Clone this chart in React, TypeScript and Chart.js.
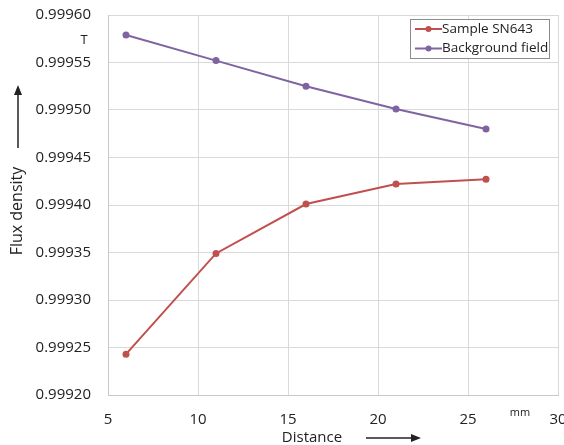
import React, { useEffect, useRef } from "react";
import { Chart, registerables } from "chart.js";

Chart.register(...registerables);

const distances = [6, 11, 16, 21, 26];
const sampleSN643 = [0.999243, 0.999349, 0.999401, 0.999422, 0.999427];
const backgroundField = [0.999579, 0.999552, 0.999525, 0.999501, 0.99948];
const seriesNames = ["Sample SN643", "Background field"];
const seriesColors = ["#C0504D", "#8064A2"];
const xAxisTitle = "Distance";
const yAxisTitle = "Flux density";
const xUnit = "mm";
const yUnit = "T";

const FONT = "'Open Sans', 'DejaVu Sans', sans-serif";

function arrow(ctx: CanvasRenderingContext2D, x1: number, y1: number, x2: number, y2: number) {
  const ang = Math.atan2(y2 - y1, x2 - x1);
  const hl = 10;
  const hw = 4;
  ctx.save();
  ctx.strokeStyle = "#222";
  ctx.fillStyle = "#222";
  ctx.lineWidth = 1.5;
  ctx.beginPath();
  ctx.moveTo(x1, y1);
  ctx.lineTo(x2 - Math.cos(ang) * hl * 0.8, y2 - Math.sin(ang) * hl * 0.8);
  ctx.stroke();
  ctx.beginPath();
  ctx.moveTo(x2, y2);
  ctx.lineTo(x2 - Math.cos(ang) * hl - Math.sin(ang) * hw, y2 - Math.sin(ang) * hl + Math.cos(ang) * hw);
  ctx.lineTo(x2 - Math.cos(ang) * hl + Math.sin(ang) * hw, y2 - Math.sin(ang) * hl - Math.cos(ang) * hw);
  ctx.closePath();
  ctx.fill();
  ctx.restore();
}

const decorPlugin = {
  id: "decor",
  afterDraw(chart: any) {
    const ctx: CanvasRenderingContext2D = chart.ctx;
    const ca = chart.chartArea;
    ctx.save();
    ctx.fillStyle = "#222";
    // units
    ctx.font = `13px ${FONT}`;
    ctx.textAlign = "center";
    ctx.textBaseline = "middle";
    ctx.fillText(yUnit, ca.left - 24, ca.top + 25);
    ctx.font = `11px ${FONT}`;
    ctx.fillText(xUnit, ca.right - 38, ca.bottom + 18);
    // y title
    ctx.font = `16px ${FONT}`;
    ctx.save();
    ctx.translate(17, 211);
    ctx.rotate(-Math.PI / 2);
    ctx.fillText(yAxisTitle, 0, 0);
    ctx.restore();
    arrow(ctx, 18, 148, 18, 85);
    // x title
    ctx.font = `15px ${FONT}`;
    ctx.fillText(xAxisTitle, 312, 438);
    arrow(ctx, 366, 438, 421, 438);

    // legend
    const lx = 410, ly = 19, lw = 139, lh = 39;
    ctx.fillStyle = "#fff";
    ctx.fillRect(lx, ly, lw, lh);
    ctx.strokeStyle = "#8c8c8c";
    ctx.lineWidth = 1;
    ctx.strokeRect(lx + 0.5, ly + 0.5, lw, lh);
    ctx.font = `13.5px ${FONT}`;
    ctx.textAlign = "left";
    seriesNames.forEach((name, i) => {
      const y = ly + 10 + i * 19.5;
      ctx.strokeStyle = seriesColors[i];
      ctx.lineWidth = 2;
      ctx.beginPath();
      ctx.moveTo(415, y);
      ctx.lineTo(442, y);
      ctx.stroke();
      ctx.fillStyle = seriesColors[i];
      ctx.beginPath();
      ctx.arc(428.5, y, 3, 0, Math.PI * 2);
      ctx.fill();
      ctx.fillStyle = "#222";
      ctx.fillText(name, 442, y);
    });
    ctx.restore();
  },
};

export default function App() {
  const ref = useRef<HTMLCanvasElement>(null);
  useEffect(() => {
    if (!ref.current) return;
    const chart = new Chart(ref.current, {
      type: "line",
      data: {
        datasets: [
          {
            label: seriesNames[0],
            data: distances.map((x, i) => ({ x, y: sampleSN643[i] })),
            borderColor: seriesColors[0],
            backgroundColor: seriesColors[0],
            borderWidth: 2,
            pointRadius: 3.5,
            pointBorderWidth: 0,
            tension: 0,
          },
          {
            label: seriesNames[1],
            data: distances.map((x, i) => ({ x, y: backgroundField[i] })),
            borderColor: seriesColors[1],
            backgroundColor: seriesColors[1],
            borderWidth: 2,
            pointRadius: 3.5,
            pointBorderWidth: 0,
            tension: 0,
          },
        ],
      },
      options: {
        animation: false,
        responsive: true,
        maintainAspectRatio: false,
        layout: { padding: { top: 15, right: 6, left: 0, bottom: 0 } },
        plugins: { legend: { display: false }, tooltip: { enabled: false } },
        scales: {
          x: {
            type: "linear",
            min: 5,
            max: 30,
            ticks: {
              stepSize: 5,
              color: "#222",
              font: { family: FONT, size: 15 },
              padding: 16,
              maxRotation: 0,
            },
            grid: { color: "#d9d9d9", drawTicks: false },
            border: { color: "#c8c8c8" },
            afterFit(scale: any) {
              scale.height = 50;
              scale.paddingLeft = 0;
              scale.paddingRight = 0;
            },
          },
          y: {
            type: "linear",
            min: 0.9992,
            max: 0.9996,
            ticks: {
              stepSize: 0.00005,
              color: "#222",
              font: { family: FONT, size: 15 },
              padding: 17,
              callback: (v: any) => Number(v).toFixed(5),
            },
            grid: { color: "#d9d9d9", drawTicks: false },
            border: { color: "#c8c8c8" },
            afterFit(scale: any) {
              scale.width = 108;
              scale.paddingTop = 0;
              scale.paddingBottom = 0;
            },
          },
        },
      },
      plugins: [decorPlugin],
    });
    return () => chart.destroy();
  }, []);
  return (
    <div style={{ position: "absolute", left: 0, top: 0, width: 564, height: 445, background: "#fff" }}>
      <canvas ref={ref} />
    </div>
  );
}
